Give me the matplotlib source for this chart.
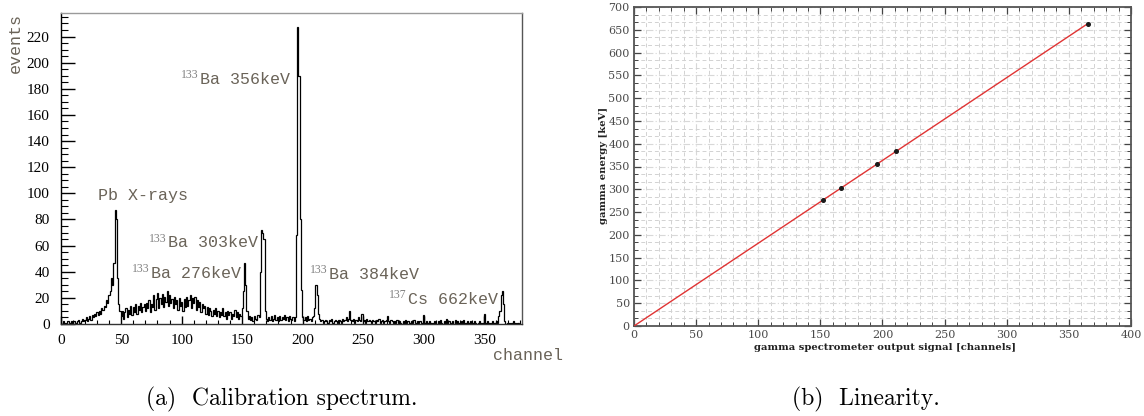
import numpy as np
import matplotlib
matplotlib.use("Agg")
import matplotlib.pyplot as plt
from matplotlib.ticker import MultipleLocator
from matplotlib.transforms import offset_copy

# ---------------- data ----------------
# calibration spectrum: counts per channel, channels 0..379
spectrum_counts = [
    1, 0, 2, 1, 0, 1, 2, 1, 0, 2,
    1, 2, 1, 0, 2, 3, 1, 2, 4, 2,
    3, 5, 2, 4, 6, 3, 7, 5, 8, 6,
    9, 7, 10, 8, 12, 11, 14, 13, 18, 16,
    22, 25, 35, 30, 47, 87, 80, 35, 15, 10,
    6, 10, 4, 9, 12, 5, 11, 8, 14, 7,
    13, 9, 15, 8, 14, 11, 16, 9, 13, 15,
    10, 16, 12, 18, 9, 15, 13, 22, 11, 19,
    24, 12, 20, 15, 23, 13, 21, 17, 25, 14,
    22, 16, 19, 12, 21, 15, 18, 11, 20, 14,
    17, 10, 19, 13, 21, 14, 18, 22, 12, 20,
    16, 21, 11, 18, 13, 17, 9, 15, 12, 14,
    8, 13, 7, 12, 10, 6, 11, 8, 12, 6,
    10, 5, 9, 7, 12, 6, 9, 4, 10, 7,
    9, 4, 8, 6, 11, 5, 9, 4, 8, 6,
    12, 25, 47, 30, 10, 4, 6, 3, 5, 2,
    6, 4, 3, 7, 5, 40, 72, 70, 65, 10,
    4, 2, 5, 3, 6, 2, 4, 7, 3, 5,
    2, 6, 3, 5, 4, 7, 3, 5, 2, 6,
    4, 3, 5, 2, 5, 68, 227, 190, 80, 26,
    5, 3, 5, 2, 6, 3, 4, 2, 5, 6,
    12, 30, 22, 8, 4, 2, 3, 1, 2, 3,
    2, 1, 3, 2, 4, 1, 2, 3, 2, 1,
    3, 2, 1, 4, 2, 3, 5, 2, 4, 10,
    3, 2, 4, 1, 3, 2, 5, 3, 2, 8,
    2, 3, 1, 4, 2, 3, 2, 1, 3, 2,
    1, 3, 2, 4, 1, 2, 3, 1, 2, 3,
    6, 2, 1, 3, 2, 1, 2, 1, 3, 1,
    2, 1, 0, 2, 1, 3, 1, 2, 0, 1,
    2, 1, 3, 1, 0, 2, 1, 2, 1, 0,
    7, 1, 2, 0, 1, 2, 1, 0, 1, 2,
    1, 0, 2, 1, 3, 1, 0, 2, 1, 4,
    1, 2, 0, 1, 2, 0, 3, 1, 2, 0,
    1, 2, 1, 3, 0, 1, 2, 0, 1, 2,
    1, 0, 2, 1, 0, 1, 2, 1, 0, 1,
    8, 1, 0, 2, 1, 0, 1, 2, 0, 1,
    2, 1, 6, 10, 22, 25, 15, 2, 0, 1,
    0, 1, 0, 1, 2, 0, 1, 0, 1, 0,
]

# peak labels: isotope mass number, element + energy, label position (channel, events)
peak_isotopes = ["", "133", "133", "133", "133", "137"]
peak_texts = ["Pb X-rays", "Ba 356keV", "Ba 303keV", "Ba 276keV", "Ba 384keV", "Cs 662keV"]
peak_label_x = [30.5, 115, 89, 75, 222, 287]
peak_label_y = [98, 187, 62, 39, 38, 19]

# linearity: peak channel vs. known gamma energy
peak_channels = [152, 167, 195.5, 210.5, 365]
peak_energies_keV = [276, 303, 356, 384, 662]

W, H = 1144, 416
fig = plt.figure(figsize=(W / 100, H / 100), dpi=100)

label_grey = "#6a6358"
mono = "Liberation Mono"
times = "Liberation Serif"

# ---------------- (a) calibration spectrum ----------------
ax1 = fig.add_axes([60.7 / W, (H - 324) / H, (521.7 - 60.7) / W, (324 - 13) / H])
counts = np.array(spectrum_counts, dtype=float)
edges = np.arange(len(counts) + 1) - 0.5
ax1.stairs(counts, edges, color="black", linewidth=0.9, baseline=None)
ax1.set_xlim(0, 381)
ax1.set_ylim(0, 238)

ax1.xaxis.set_major_locator(MultipleLocator(50))
ax1.xaxis.set_minor_locator(MultipleLocator(10))
ax1.yaxis.set_major_locator(MultipleLocator(20))
ax1.yaxis.set_minor_locator(MultipleLocator(5))
ax1.tick_params(axis="y", which="major", direction="in", length=10, width=1, pad=8,
                labelsize=11, left=True, right=False)
ax1.tick_params(axis="y", which="minor", direction="in", length=5, width=0.8, left=True, right=False)
ax1.tick_params(axis="x", which="major", direction="in", length=6, width=1, pad=7,
                labelsize=11, bottom=True, top=False)
ax1.tick_params(axis="x", which="minor", direction="in", length=3, width=0.8, bottom=True, top=False)
for lab in ax1.get_xticklabels() + ax1.get_yticklabels():
    lab.set_fontfamily(times)
ax1.spines["left"].set_color("black")
ax1.spines["bottom"].set_color("#333333")
ax1.spines["top"].set_color("#9a9a9a")
ax1.spines["right"].set_color("#555555")
for s in ax1.spines.values():
    s.set_linewidth(1.0)

for iso, txt, px, py in zip(peak_isotopes, peak_texts, peak_label_x, peak_label_y):
    ax1.text(px, py, txt, family=mono, fontsize=12, color=label_grey,
             ha="left", va="center")
    if iso:
        tr = offset_copy(ax1.transData, fig=fig, x=-1, y=3, units="points")
        ax1.text(px, py, iso, family=times, fontsize=8.5, color="#808080",
                 ha="right", va="center", transform=tr)

fig.text(15 / W, (H - 13) / H, "events", family=mono, fontsize=12, color=label_grey,
         rotation=90, ha="center", va="top")
fig.text(563 / W, (H - 355) / H, "channel", family=mono, fontsize=12, color=label_grey,
         ha="right", va="center")

# ---------------- (b) linearity ----------------
ax2 = fig.add_axes([634 / W, (H - 326) / H, 497 / W, 319 / H])
ax2.set_xlim(0, 400)
ax2.set_ylim(0, 700)
ax2.xaxis.set_major_locator(MultipleLocator(50))
ax2.xaxis.set_minor_locator(MultipleLocator(10))
ax2.yaxis.set_major_locator(MultipleLocator(50))
ax2.yaxis.set_minor_locator(MultipleLocator(50 / 3))
ax2.grid(which="minor", color="#d2d2d2", linestyle=(0, (4, 3)), linewidth=0.7)
ax2.grid(which="major", color="#d8d8d8", linestyle=(0, (6, 2, 1, 2)), linewidth=0.8)
ax2.set_axisbelow(True)

ch = np.array(peak_channels)
en = np.array(peak_energies_keV)
slope = np.sum(ch * en) / np.sum(ch * ch)
fit_x = np.array([0.0, ch.max()])
ax2.plot(fit_x, slope * fit_x, color="#e03434", linewidth=1.0, zorder=3)
ax2.plot(ch, en, linestyle="none", marker="o", markersize=2.6, color="#1a1a1a", zorder=4)

ax2.tick_params(which="both", direction="in", top=True, right=True, colors="#444444",
                labelcolor="#4a4a4a")
ax2.tick_params(which="major", length=5, width=0.9, labelsize=8, pad=3)
ax2.tick_params(which="minor", length=3, width=0.7)
for lab in ax2.get_xticklabels() + ax2.get_yticklabels():
    lab.set_fontfamily("DejaVu Serif")
for s in ax2.spines.values():
    s.set_color("#555555")
    s.set_linewidth(1.3)

fig.text(885 / W, (H - 348) / H, "gamma spectrometer output signal [channels]",
         family="DejaVu Serif", fontweight="bold", fontsize=7.2, color="#222222",
         ha="center", va="center")
fig.text(603 / W, (H - 165) / H, "gamma energy [keV]",
         family="DejaVu Serif", fontweight="bold", fontsize=7.2, color="#222222",
         rotation=90, ha="center", va="center")

# ---------------- captions ----------------
fig.text(282 / W, (H - 399) / H, "(a)  Calibration spectrum.", family="cmr10",
         fontsize=17, ha="center", va="center")
fig.text(866 / W, (H - 399) / H, "(b)  Linearity.", family="cmr10",
         fontsize=17, ha="center", va="center")

fig.savefig("out.png", dpi=100, facecolor="white")
